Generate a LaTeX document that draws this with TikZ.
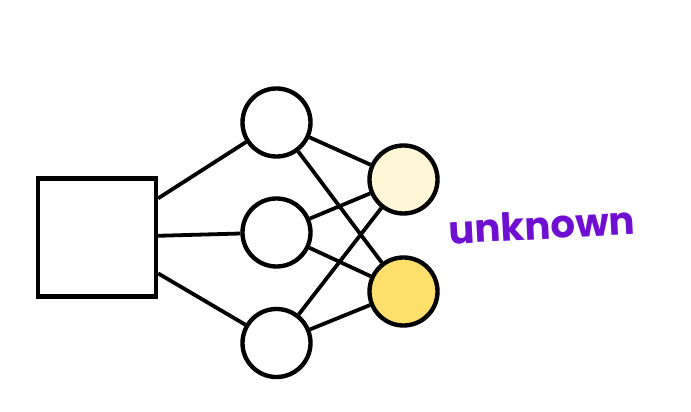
\documentclass[tikz,border=0pt]{standalone}
\usepackage{fontspec}
\newfontfamily\handfont{Poppins}
\usetikzlibrary{positioning}

\definecolor{palegold}{HTML}{FFF6D6}
\definecolor{gold}{HTML}{FFDF6B}
\definecolor{inkpurple}{HTML}{6E0FD2}

\begin{document}
\begin{tikzpicture}[
    x=0.025cm, y=-0.025cm,
    inputbox/.style={draw, line width=3.1pt, minimum size=2.95cm, inner sep=0pt, fill=white},
    unit/.style={circle, draw, line width=3.1pt, minimum size=1.7cm, inner sep=0pt, fill=white},
    link/.style={line width=2.7pt},
]

% Canvas
\useasboundingbox (0,0) rectangle (691,412);

% === Input ===
\node[inputbox] (in) at (97,237.5) {};

% === Hidden layer ===
\node[unit] (h1) at (276.5,122.5) {};
\node[unit] (h2) at (276.5,232.5) {};
\node[unit] (h3) at (276.5,343) {};

% === Output layer ===
\node[unit, fill=palegold] (o1) at (403.5,179.5) {};
\node[unit, fill=gold] (o2) at (403.5,291.5) {};

% === Connections ===
\foreach \h in {h1,h2,h3} {
    \draw[link] (in) -- (\h);
    \draw[link] (\h) -- (o1);
    \draw[link] (\h) -- (o2);
}

% Label
\node[font=\handfont\bfseries\fontsize{27.5}{27.5}\selectfont, text=inkpurple, rotate=3] (lbl) at (542,225) {unknown};

\end{tikzpicture}
\end{document}
